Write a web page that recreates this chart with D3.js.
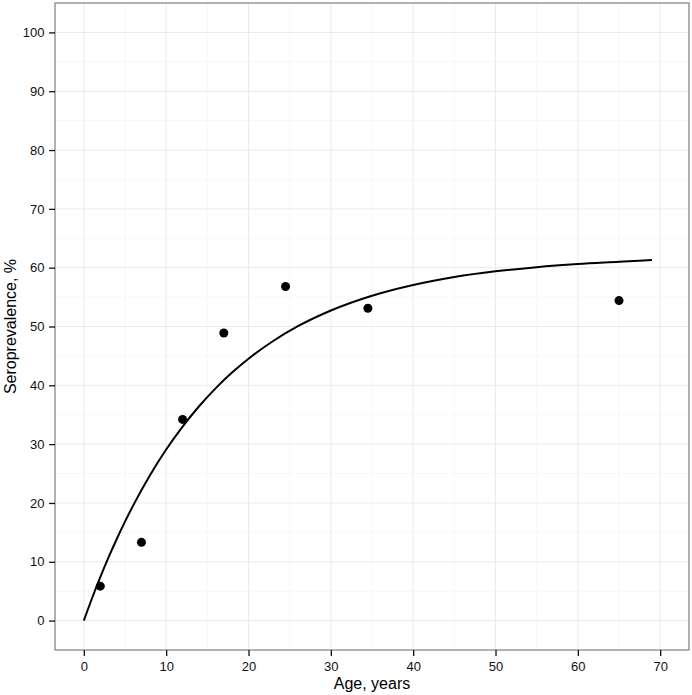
<!DOCTYPE html>
<html><head><meta charset="utf-8">
<script src="https://cdn.jsdelivr.net/npm/d3@7"></script>
<style>body{margin:0;background:#fff}svg{display:block}text{font-family:"Liberation Sans",Arial,sans-serif}</style>
</head><body>
<svg id="c" width="692" height="695"></svg>
<script>
const pointAge = [2, 7, 12, 17, 24.5, 34.5, 65];
const pointPrev = [5.85, 13.3, 34.2, 48.9, 56.8, 53.1, 54.4];
const curveAge = [0,1,2,3,4,5,6,8,10,12,14,16,18,20,23,26,30,35,40,45,50,55,60,65,69];
const curvePrev = [0,3.8,7.37,10.73,13.87,16.82,19.59,24.63,29.08,32.99,36.44,39.48,42.16,44.52,47.54,50.05,52.72,55.24,57.07,58.41,59.38,60.09,60.61,60.99,61.3];
const xTicks = [0,10,20,30,40,50,60,70];
const yTicks = [0,10,20,30,40,50,60,70,80,90,100];
const xTitle = "Age, years";
const yTitle = "Seroprevalence, %";

const svg = d3.select("#c");
const L = 55, R = 689, T = 3, B = 650;
const x = d3.scaleLinear().domain([-3.5, 73.5]).range([L, R]);
const y = d3.scaleLinear().domain([-5, 105]).range([B, T]);

const xMinor = xTicks.slice(0,-1).map((d,i)=>(d+xTicks[i+1])/2);
const yMinor = yTicks.slice(0,-1).map((d,i)=>(d+yTicks[i+1])/2);
const g = svg.append("g");
g.selectAll(".xm").data(xMinor).join("line").attr("x1",d=>x(d)).attr("x2",d=>x(d)).attr("y1",T).attr("y2",B).attr("stroke","#f7f7f7").attr("stroke-width",1);
g.selectAll(".ym").data(yMinor).join("line").attr("y1",d=>y(d)).attr("y2",d=>y(d)).attr("x1",L).attr("x2",R).attr("stroke","#f7f7f7").attr("stroke-width",1);
g.selectAll(".xM").data(xTicks).join("line").attr("x1",d=>x(d)).attr("x2",d=>x(d)).attr("y1",T).attr("y2",B).attr("stroke","#ebebeb").attr("stroke-width",1);
g.selectAll(".yM").data(yTicks).join("line").attr("y1",d=>y(d)).attr("y2",d=>y(d)).attr("x1",L).attr("x2",R).attr("stroke","#ebebeb").attr("stroke-width",1);

const line = d3.line().x((d,i)=>x(curveAge[i])).y((d,i)=>y(curvePrev[i])).curve(d3.curveMonotoneX);
svg.append("path").datum(curveAge).attr("d",line).attr("fill","none").attr("stroke","#000").attr("stroke-width",2);

svg.selectAll(".pt").data(pointAge).join("circle").attr("cx",d=>x(d)).attr("cy",(d,i)=>y(pointPrev[i])).attr("r",4.5).attr("fill","#000");

svg.append("rect").attr("x",L).attr("y",T).attr("width",R-L).attr("height",B-T).attr("fill","none").attr("stroke","#7f7f7f").attr("stroke-width",1.2);

const xa = svg.append("g").attr("transform",`translate(0,${B})`).call(d3.axisBottom(x).tickValues(xTicks).tickSize(6).tickPadding(6).tickFormat(d3.format("d")));
const ya = svg.append("g").attr("transform",`translate(${L},0)`).call(d3.axisLeft(y).tickValues(yTicks).tickSize(6).tickPadding(4.5).tickFormat(d3.format("d")));
[xa,ya].forEach(a=>{
  a.select(".domain").remove();
  a.selectAll(".tick line").attr("stroke","#111").attr("stroke-width",1.3);
  a.selectAll(".tick text").attr("fill","#111").style("font-size","13px").style("font-family","'Liberation Sans',Arial,sans-serif");
});

svg.append("text").attr("x",(L+R)/2).attr("y",689).attr("text-anchor","middle").style("font-size","16px").attr("fill","#000").text(xTitle);
svg.append("text").attr("transform",`translate(16,${(T+B)/2}) rotate(-90)`).attr("text-anchor","middle").style("font-size","16px").attr("fill","#000").text(yTitle);
</script>
</body></html>
